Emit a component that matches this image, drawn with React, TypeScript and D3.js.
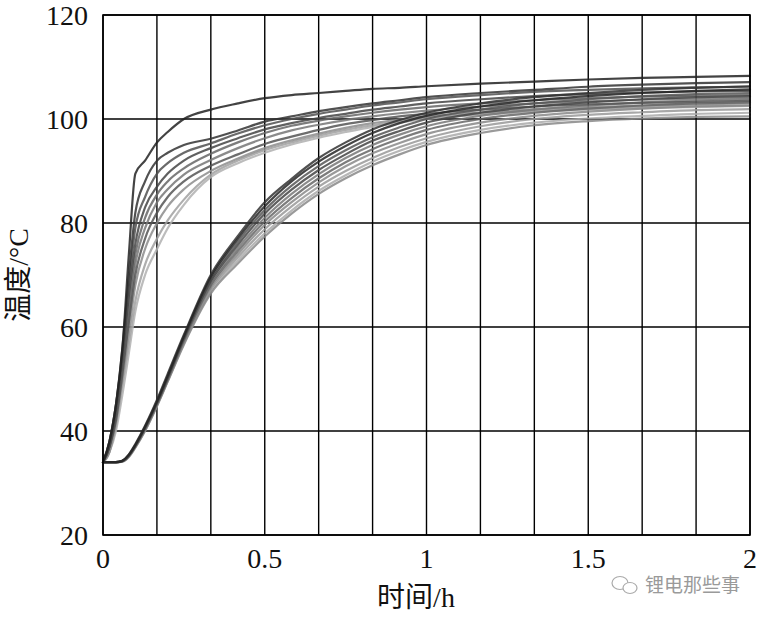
import * as d3 from "d3";
import React from "react";

// time axis sample points (h)
const timePoints = [0, 0.02, 0.04, 0.06, 0.08, 0.1, 0.13, 0.167, 0.2, 0.25, 0.333, 0.417, 0.5, 0.583, 0.667, 0.75, 0.833, 0.917, 1, 1.167, 1.333, 1.5, 1.667, 1.833, 2];

// fast-heating group (°C)
const fast1 = [34, 38, 45, 56, 74, 89.5, 92, 95.5, 97.5, 100, 101.8, 103, 104, 104.6, 105, 105.4, 105.8, 106, 106.3, 106.8, 107.2, 107.6, 107.9, 108.1, 108.3];
const fast2 = [34, 38, 45, 56, 70, 82, 88, 92, 93.5, 95, 96.2, 97.8, 99.5, 100.5, 101.5, 102.3, 103, 103.6, 104.2, 105, 105.6, 106.2, 106.6, 106.9, 107.1];
const fast3 = [34, 38, 45, 55, 68, 79, 85, 89.5, 91.5, 93.5, 95.3, 97.2, 98.8, 100, 101, 101.8, 102.6, 103.2, 103.8, 104.6, 105.2, 105.6, 105.9, 106.1, 106.2];
const fast4 = [34, 37, 44, 54, 66, 76, 83, 87, 89.5, 92, 94.4, 96.3, 98, 99.2, 100.2, 101, 101.8, 102.4, 103, 103.8, 104.4, 104.8, 105.1, 105.3, 105.4];
const fast5 = [34, 37, 43, 53, 64, 74, 81, 85.5, 88, 90.5, 93.3, 95.5, 97.3, 98.7, 99.7, 100.5, 101.2, 101.8, 102.3, 103, 103.6, 104, 104.3, 104.5, 104.6];
const fast6 = [34, 37, 43, 52, 62, 72, 79, 84, 86.5, 89.3, 92.1, 94.4, 96.3, 97.8, 98.9, 99.8, 100.5, 101.1, 101.6, 102.4, 103, 103.4, 103.7, 103.9, 104];
const fast7 = [34, 37, 42, 51, 61, 70, 77, 82, 85, 88, 91, 93.2, 95.2, 96.6, 97.9, 99, 99.8, 100.5, 101, 101.8, 102.4, 102.8, 103.1, 103.3, 103.5];
const fast8 = [34, 36, 42, 50, 59, 68, 75, 80, 83.2, 86.5, 90, 92.4, 94.4, 95.9, 97.2, 98.3, 99.2, 99.9, 100.5, 101.3, 101.9, 102.3, 102.6, 102.8, 103];
const fast9 = [34, 36, 41, 49, 57, 65, 72, 77, 80.5, 84.5, 89.3, 92, 94, 95.5, 96.8, 97.9, 98.8, 99.6, 100.2, 101, 101.6, 102, 102.3, 102.5, 102.6];
const fast10 = [34, 36, 40, 47, 55, 63, 70, 75, 79, 83.5, 88.8, 91.5, 93.5, 95.1, 96.4, 97.5, 98.5, 99.3, 100, 100.8, 101.4, 101.8, 102.1, 102.3, 102.5];

// slow-heating group (°C)
const slow1 = [34, 34, 34, 34.3, 35.5, 37.5, 41, 46, 51, 58.5, 70, 77.5, 84, 88.5, 92.5, 95.5, 98, 99.8, 101.2, 103, 104.2, 105, 105.6, 106, 106.3];
const slow2 = [34, 34, 34, 34.3, 35.4, 37.3, 40.8, 45.7, 50.6, 58.2, 69.6, 77, 83.2, 88, 91.8, 94.8, 97.3, 99.2, 100.6, 102.4, 103.6, 104.4, 105, 105.4, 105.7];
const slow3 = [34, 34, 34, 34.3, 35.4, 37.2, 40.7, 45.5, 50.4, 58, 69.2, 76.4, 82.5, 87.2, 91, 94, 96.5, 98.4, 100, 101.8, 103, 103.8, 104.4, 104.8, 105];
const slow4 = [34, 34, 34, 34.2, 35.3, 37.2, 40.6, 45.4, 50.2, 57.8, 68.8, 75.8, 81.8, 86.4, 90.2, 93.2, 95.8, 97.7, 99.3, 101.2, 102.4, 103.2, 103.8, 104.2, 104.4];
const slow5 = [34, 34, 34, 34.2, 35.3, 37.1, 40.5, 45.3, 50, 57.6, 68.4, 75.2, 81, 85.6, 89.4, 92.5, 95, 97, 98.6, 100.6, 101.8, 102.6, 103.2, 103.6, 103.8];
const slow6 = [34, 34, 34, 34.2, 35.2, 37.1, 40.4, 45.2, 49.9, 57.4, 68, 74.6, 80.3, 84.8, 88.6, 91.7, 94.2, 96.2, 97.9, 100, 101.2, 102, 102.6, 103, 103.2];
const slow7 = [34, 34, 34, 34.2, 35.2, 37, 40.3, 45.1, 49.8, 57.2, 67.6, 74, 79.6, 84, 87.8, 90.9, 93.4, 95.4, 97.1, 99.3, 100.6, 101.4, 102, 102.4, 102.6];
const slow8 = [34, 34, 34, 34.2, 35.2, 37, 40.2, 45, 49.7, 57, 67.2, 73.4, 78.8, 83.2, 87, 90, 92.5, 94.6, 96.3, 98.6, 100, 100.8, 101.3, 101.7, 101.9];
const slow9 = [34, 34, 34, 34.1, 35.1, 36.9, 40.1, 44.9, 49.6, 56.8, 66.8, 72.8, 78, 82.4, 86.2, 89.2, 91.8, 93.9, 95.6, 97.9, 99.3, 100.1, 100.6, 101, 101.2];
const slow10 = [34, 34, 34, 34.1, 35, 36.8, 40, 44.8, 49.5, 56.6, 66.4, 72.2, 77.4, 81.8, 85.6, 88.6, 91.1, 93.2, 95, 97.3, 98.8, 99.6, 100.1, 100.4, 100.5];

const xTicks = [0, 0.5, 1, 1.5, 2];
const yTicks = [20, 40, 60, 80, 100, 120];

export default function App() {
    const width = 758;
    const height = 619;
    const left = 103, right = 750, top = 15, bottom = 535;

    const x = d3.scaleLinear().domain([0, 2]).range([left, right]);
    const y = d3.scaleLinear().domain([20, 120]).range([bottom, top]);

    // light lines first, dark lines last so they sit on top
    const curves: { values: number[]; color: string }[] = [
        { values: fast10, color: "#b0b0b0" },
        { values: fast9, color: "#a0a0a0" },
        { values: slow9, color: "#aaaaaa" },
        { values: slow8, color: "#999999" },
        { values: fast8, color: "#8c8c8c" },
        { values: slow10, color: "#888888" },
        { values: slow7, color: "#888888" },
        { values: fast6, color: "#777777" },
        { values: slow5, color: "#777777" },
        { values: fast5, color: "#666666" },
        { values: slow6, color: "#666666" },
        { values: fast7, color: "#555555" },
        { values: slow3, color: "#555555" },
        { values: fast3, color: "#505050" },
        { values: slow4, color: "#444444" },
        { values: fast4, color: "#444444" },
        { values: slow1, color: "#333333" },
        { values: fast2, color: "#333333" },
        { values: slow2, color: "#262626" },
        { values: fast1, color: "#222222" },
    ];

    const line = d3.line<number>()
        .x((_, i) => x(timePoints[i]))
        .y((d) => y(d))
        .curve(d3.curveMonotoneX);

    const vGrid = d3.range(0, 13).map((i) => i / 6);
    const serif = '"Liberation Serif", "DejaVu Serif", "Noto Sans CJK SC", serif';

    return (
        <svg width={width} height={height} style={{ position: "absolute", left: 0, top: 0, background: "#fff" }}>
            <rect x={0} y={0} width={width} height={height} fill="#fff" />
            {/* grid */}
            {vGrid.map((t, i) => (
                <line key={"v" + i} x1={x(t)} x2={x(t)} y1={top} y2={bottom} stroke="#000" strokeWidth={1.4} />
            ))}
            {yTicks.map((v) => (
                <line key={"h" + v} x1={left} x2={right} y1={y(v)} y2={y(v)} stroke="#000" strokeWidth={1.4} />
            ))}
            {/* curves */}
            <g fill="none" strokeLinejoin="round" strokeLinecap="round">
                {curves.map((c, i) => (
                    <path key={i} d={line(c.values) ?? ""} stroke={c.color} strokeWidth={2.2} strokeOpacity={0.85} />
                ))}
            </g>
            {/* frame */}
            <rect x={left} y={top} width={right - left} height={bottom - top} fill="none" stroke="#000" strokeWidth={1.6} />
            {/* tick labels */}
            <g style={{ fontFamily: serif, fontSize: "28px" }} fill="#111">
                {yTicks.map((v) => (
                    <text key={v} x={88} y={y(v)} dy="0.35em" textAnchor="end">{v}</text>
                ))}
                {xTicks.map((v) => (
                    <text key={v} x={x(v)} y={568} textAnchor="middle">{v}</text>
                ))}
            </g>
            {/* axis titles */}
            <text x={416} y={607} textAnchor="middle" style={{ fontFamily: serif, fontSize: "28px" }} fill="#111">时间/h</text>
            <text transform="translate(28,275) rotate(-90)" textAnchor="middle" style={{ fontFamily: serif, fontSize: "28px" }} fill="#111">温度/°C</text>
            {/* watermark */}
            <g stroke="#aaa" fill="none" strokeWidth={1.2}>
                <ellipse cx={620} cy={583} rx={8} ry={6.5} />
                <ellipse cx={630} cy={588} rx={7} ry={5.5} fill="#fff" />
            </g>
            <text x={645} y={592} style={{ fontFamily: '"Noto Sans CJK SC", sans-serif', fontSize: "19px" }} fill="#9a9a9a">锂电那些事</text>
        </svg>
    );
}
